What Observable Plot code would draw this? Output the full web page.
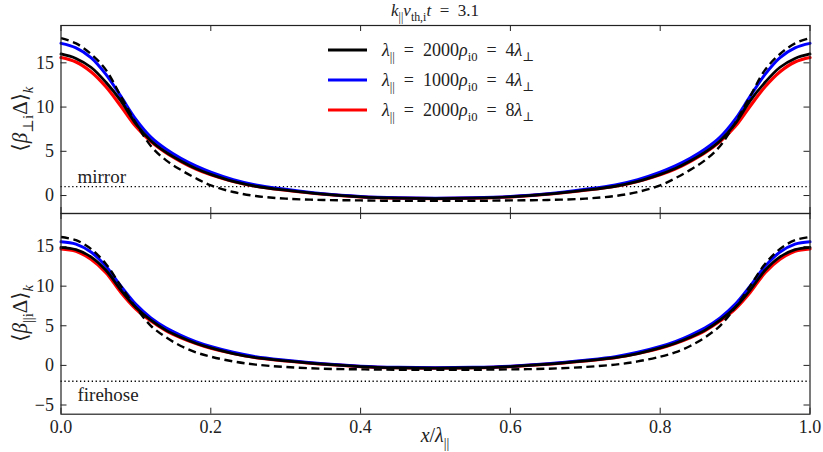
<!DOCTYPE html>
<html><head><meta charset="utf-8">
<script src="https://cdn.jsdelivr.net/npm/d3@7"></script>
<script src="https://cdn.jsdelivr.net/npm/@observablehq/plot@0.6"></script>
<style>
body{margin:0;background:#fff}
svg{display:block}
#chart svg, #chart svg text, #chart svg tspan { font-family: "Liberation Serif", "DejaVu Serif", serif !important; }
</style>
</head><body><div id="chart"></div>
<script>
// ---- data ----
const xs = [0,0.02,0.04,0.06,0.08,0.10,0.12,0.14,0.16,0.18,0.20,0.23,0.26,0.30,0.35,0.40,0.45,0.50,
            0.55,0.60,0.65,0.70,0.74,0.77,0.80,0.82,0.84,0.86,0.88,0.90,0.92,0.94,0.96,0.98,1.00];

// top panel: <beta_perp,i Delta>_k
const perpRun2000x4 = [16.0,15.5,14.5,12.8,10.7,8.1,6.2,4.9,3.9,3.05,2.4,1.6,1.05,0.6,0.15,-0.15,-0.3,-0.35,
                       -0.3,-0.15,0.15,0.6,1.05,1.6,2.4,3.05,3.9,4.9,6.2,8.1,10.7,12.8,14.5,15.5,16.0];
const perpRun1000x4 = [17.2,16.7,15.6,13.7,11.2,8.6,6.6,5.25,4.2,3.35,2.65,1.8,1.2,0.7,0.2,-0.1,-0.25,-0.3,
                       -0.25,-0.1,0.2,0.7,1.2,1.8,2.65,3.35,4.2,5.25,6.6,8.6,11.2,13.7,15.6,16.7,17.2];
const perpRun2000x8 = [15.6,15.1,14.0,12.3,10.1,7.8,6.1,4.85,3.85,3.0,2.35,1.6,1.05,0.6,0.15,-0.15,-0.3,-0.35,
                       -0.3,-0.15,0.15,0.6,1.05,1.6,2.35,3.0,3.85,4.85,6.1,7.8,10.1,12.3,14.0,15.1,15.6];
const perpTheory    = [17.8,17.2,16.0,14.2,11.2,8.2,5.6,4.0,2.9,1.95,1.15,0.4,-0.05,-0.35,-0.5,-0.55,-0.6,-0.6,
                       -0.6,-0.55,-0.5,-0.35,-0.05,0.4,1.15,1.95,2.9,4.0,5.6,8.2,11.2,14.2,16.0,17.2,17.8];

// bottom panel: <beta_par,i Delta>_k
const parRun2000x4 = [14.9,14.6,13.7,12.0,9.5,7.3,5.7,4.45,3.55,2.8,2.2,1.5,0.98,0.58,0.15,-0.15,-0.3,-0.35,
                      -0.3,-0.15,0.15,0.58,0.98,1.5,2.2,2.8,3.55,4.45,5.7,7.3,9.5,12.0,13.7,14.6,14.9];
const parRun1000x4 = [15.6,15.3,14.3,12.5,10.0,7.7,6.0,4.75,3.8,3.0,2.38,1.65,1.1,0.65,0.2,-0.1,-0.25,-0.3,
                      -0.25,-0.1,0.2,0.65,1.1,1.65,2.38,3.0,3.8,4.75,6.0,7.7,10.0,12.5,14.3,15.3,15.6];
const parRun2000x8 = [14.7,14.4,13.4,11.7,9.2,7.1,5.6,4.4,3.5,2.78,2.18,1.5,0.98,0.58,0.15,-0.15,-0.3,-0.35,
                      -0.3,-0.15,0.15,0.58,0.98,1.5,2.18,2.78,3.5,4.4,5.6,7.1,9.2,11.7,13.4,14.4,14.7];
const parTheory    = [16.2,15.8,14.7,12.8,10.0,7.3,5.0,3.55,2.45,1.65,1.1,0.5,0.1,-0.2,-0.42,-0.5,-0.55,-0.55,
                      -0.55,-0.5,-0.42,-0.2,0.1,0.5,1.1,1.65,2.45,3.55,5.0,7.3,10.0,12.8,14.7,15.8,16.2];

const mirrorThreshold = 1;
const firehoseThreshold = -2;
const xTicks = [0,0.2,0.4,0.6,0.8,1.0];
const yTicksTop = [0,5,10,15];
const yTicksBottom = [-5,0,5,10,15];
const seriesNames = ["2000x4","1000x4","2000x8"];
const colors = {"2000x4":"#000000","1000x4":"#0000ff","2000x8":"#ff0000"};

// ---- helpers ----
const W = 823, ML = 60.5, MR = 13.5;
const FONT = "Liberation Serif, DejaVu Serif, serif";
const rows = (vals) => xs.map((x, i) => ({x, y: vals[i]}));
const minus = d => d < 0 ? "\u2212" + Math.abs(d) : String(d);
const EQ = "\u2002=\u2002";

function mathText(sel, parts, size) {
  let prev = 0;
  for (const [t, f = ""] of parts) {
    const sub = f.includes("s");
    const shift = sub ? size * 0.3 : 0;
    const tsp = sel.append("tspan").text(t)
      .attr("dy", shift - prev)
      .attr("font-size", sub ? size * 0.7 : size);
    if (f.includes("i")) tsp.attr("font-style", "italic");
    prev = shift;
  }
}

function panel({height, marginTop, marginBottom, yDomain, yTicks, runs, theory, threshold, label, labelBelow, showX}) {
  const ph = height - marginTop - marginBottom, pw = W - ML - MR;
  const tick = 6;
  const marks = [
    Plot.ruleY([threshold], {stroke: "#000", strokeWidth: 1.3, strokeDasharray: "1.3,2.6"}),
    Plot.text([label], {x: () => 0.022, y: () => threshold, text: d => d, textAnchor: "start",
      lineAnchor: labelBelow ? "top" : "bottom", dy: labelBelow ? 6 : -4, fontSize: 19, fill: "#222"}),
    Plot.line(rows(runs["2000x8"]), {x: "x", y: "y", stroke: colors["2000x8"], strokeWidth: 3.2, curve: "catmull-rom"}),
    Plot.line(rows(runs["1000x4"]), {x: "x", y: "y", stroke: colors["1000x4"], strokeWidth: 3, curve: "catmull-rom"}),
    Plot.line(rows(runs["2000x4"]), {x: "x", y: "y", stroke: colors["2000x4"], strokeWidth: 2.8, curve: "catmull-rom"}),
    Plot.line(rows(theory), {x: "x", y: "y", stroke: "#000", strokeWidth: 2.4, strokeDasharray: "8,4.5", strokeLinecap: "butt", curve: "catmull-rom"}),
    Plot.frame({stroke: "#222", strokeWidth: 1.2}),
    Plot.tickX(xTicks, {x: d => d, insetTop: ph - tick, stroke: "#222", strokeWidth: 1}),
    Plot.tickX(xTicks, {x: d => d, insetBottom: ph - tick, stroke: "#222", strokeWidth: 1}),
    Plot.tickY(yTicks, {y: d => d, insetRight: pw - tick, stroke: "#222", strokeWidth: 1}),
    Plot.tickY(yTicks, {y: d => d, insetLeft: pw - tick, stroke: "#222", strokeWidth: 1}),
    Plot.axisY(yTicks, {tickSize: 0, tickPadding: 7, tickFormat: minus, label: null, fontSize: 18, fill: "#222"})
  ];
  if (showX) marks.push(Plot.axisX(xTicks, {tickSize: 0, tickPadding: 6, tickFormat: d3.format(".1f"), label: null, fontSize: 18, fill: "#222"}));
  return Plot.plot({
    width: W, height, marginLeft: ML, marginRight: MR, marginTop, marginBottom,
    x: {domain: [0, 1], axis: null},
    y: {domain: yDomain, axis: null},
    style: {fontFamily: FONT, fontSize: "18px", background: "white", overflow: "visible", color: "#222"},
    marks
  });
}

const topPanel = panel({
  height: 213, marginTop: 25, marginBottom: 0, yDomain: [-2.03, 19.22], yTicks: yTicksTop,
  runs: {"2000x4": perpRun2000x4, "1000x4": perpRun1000x4, "2000x8": perpRun2000x8},
  theory: perpTheory, threshold: mirrorThreshold, label: "mirror", labelBelow: false, showX: false
});
const bottomPanel = panel({
  height: 239, marginTop: 0, marginBottom: 38.3, yDomain: [-6.16, 19.17], yTicks: yTicksBottom,
  runs: {"2000x4": parRun2000x4, "1000x4": parRun1000x4, "2000x8": parRun2000x8},
  theory: parTheory, threshold: firehoseThreshold, label: "firehose", labelBelow: true, showX: true
});
document.getElementById("chart").append(topPanel, bottomPanel);

// ---- text with sub-scripts ----
const cx = ML + (W - ML - MR) / 2;
const ts = d3.select(topPanel);
const title = ts.append("text").attr("x", cx).attr("y", 16).attr("text-anchor", "middle")
  .attr("fill", "#222");
mathText(title, [["k","i"],["||","s"],["v","i"],["th,i","s"],["t","i"],[EQ + "3.1"]], 17);

const yl1 = ts.append("text").attr("transform", `translate(27,119) rotate(-90)`).attr("text-anchor", "middle")
  .attr("fill", "#222");
mathText(yl1, [["\u27E8"],["\u03B2","i"],["\u22A5i","s"],["\u0394"],["\u27E9"],["k","si"]], 21);

const legendLabels = {
  "2000x4": [["\u03BB","i"],["||","s"],[EQ + "2000"],["\u03C1","i"],["i0","s"],[EQ + "4"],["\u03BB","i"],["\u22A5","s"]],
  "1000x4": [["\u03BB","i"],["||","s"],[EQ + "1000"],["\u03C1","i"],["i0","s"],[EQ + "4"],["\u03BB","i"],["\u22A5","s"]],
  "2000x8": [["\u03BB","i"],["||","s"],[EQ + "2000"],["\u03C1","i"],["i0","s"],[EQ + "8"],["\u03BB","i"],["\u22A5","s"]]
};
seriesNames.forEach((s, i) => {
  const y = 50 + i * 30;
  ts.append("line").attr("x1", 328).attr("x2", 367).attr("y1", y).attr("y2", y)
    .attr("stroke", colors[s]).attr("stroke-width", 3);
  const t = ts.append("text").attr("x", 382).attr("y", y + 6).attr("text-anchor", "start").attr("fill", "#222");
  mathText(t, legendLabels[s], 18);
});

const bs = d3.select(bottomPanel);
const yl2 = bs.append("text").attr("transform", `translate(27,${(239 - 38.3) / 2}) rotate(-90)`).attr("text-anchor", "middle")
  .attr("fill", "#222");
mathText(yl2, [["\u27E8"],["\u03B2","i"],["||i","s"],["\u0394"],["\u27E9"],["k","si"]], 21);

const xl = bs.append("text").attr("x", cx).attr("y", 229).attr("text-anchor", "middle")
  .attr("fill", "#222");
mathText(xl, [["x","i"],["/"],["\u03BB","i"],["||","s"]], 20);
</script>
</body></html>
